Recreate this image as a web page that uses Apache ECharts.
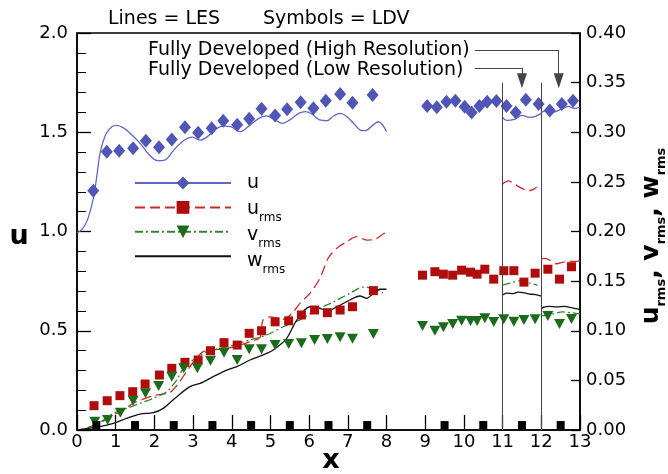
<!DOCTYPE html>
<html><head><meta charset="utf-8">
<script src="https://cdn.jsdelivr.net/npm/echarts@6/dist/echarts.min.js"></script>
<style>html,body{margin:0;padding:0;background:#fff}#c{width:668px;height:474px}</style>
</head><body><div id="c"></div>
<script>
// ---- LES (lines) ----
const uLesX = [0,0.1,0.2,0.3,0.43,0.52,0.59,0.67,0.76,0.9,1.02,1.2,1.4,1.65,1.85,2.08,2.27,2.5,2.77,2.98,3.18,3.37,3.58,3.78,3.97,4.21,4.44,4.70,4.90,5.09,5.30,5.52,5.73,5.90,6.07,6.27,6.46,6.63,6.80,6.98,7.19,7.32,7.45,7.65,7.79,8.0,
  null, 11.0,11.1,11.3,11.5,11.7,11.85,12.0, null, 12.0,12.15,12.3,12.5,12.7,12.85,13.0];
const uLesY = [0.995,1.005,1.03,1.075,1.175,1.29,1.39,1.45,1.495,1.528,1.535,1.522,1.49,1.44,1.39,1.357,1.36,1.41,1.46,1.475,1.46,1.478,1.515,1.531,1.528,1.503,1.531,1.57,1.582,1.565,1.545,1.565,1.595,1.604,1.592,1.562,1.558,1.582,1.595,1.578,1.536,1.511,1.508,1.536,1.553,1.503,
  null, 1.575,1.56,1.565,1.585,1.575,1.58,1.595, null, 1.6,1.61,1.6,1.615,1.63,1.62,1.625];

const urmsLesX = [0.3,0.51,0.85,1.2,1.45,1.71,1.97,2.23,2.40,2.62,2.83,3.05,3.26,3.52,3.87,4.21,4.47,4.73,4.78,4.81,4.99,5.33,5.59,5.76,6.02,6.28,6.49,6.71,6.97,7.23,7.49,7.70,7.91,8.0,
  null, 11.0,11.15,11.3,11.45,11.66,11.8,11.88, null, 12.0,12.1,12.25,12.4,12.55,12.7,12.9,13.0];
const urmsLesY = [0.003,0.005,0.0134,0.020,0.027,0.031,0.0346,0.0363,0.0376,0.047,0.0588,0.0705,0.0789,0.0806,0.0823,0.0856,0.089,0.0934,0.106,0.111,0.114,0.1115,0.119,0.1276,0.1377,0.153,0.173,0.183,0.1897,0.1948,0.1914,0.192,0.1975,0.1988,
  null, 0.248,0.251,0.248,0.2445,0.241,0.2425,0.2445, null, 0.1725,0.173,0.1705,0.1675,0.169,0.170,0.170,0.1705];

const vrmsLesX = [0.25,0.6,0.94,1.28,1.63,1.97,2.32,2.58,2.75,3.0,3.35,3.70,4.04,4.47,4.90,5.33,5.76,6.19,6.62,7.05,7.40,7.66,7.91,
  null, 11.0,11.2,11.45,11.7,11.9, null, 12.0,12.3,12.55,12.8,13.0];
const vrmsLesY = [0.0017,0.008,0.0168,0.0218,0.0269,0.0319,0.0386,0.0504,0.0622,0.0705,0.0789,0.0823,0.0856,0.0907,0.0957,0.104,0.111,0.121,0.129,0.1377,0.144,0.1427,0.138,
  null, 0.146,0.148,0.1505,0.148,0.146, null, 0.115,0.117,0.119,0.118,0.117];

const wrmsLesX = [0.08,0.59,0.94,1.28,1.63,1.97,2.23,2.58,2.92,3.18,3.52,3.87,4.13,4.47,4.81,5.07,5.42,5.68,6.02,6.28,6.49,6.71,7.05,7.31,7.49,7.66,7.83,8.0,
  null, 11.0,11.1,11.27,11.4,11.53,11.7,11.85,12.0, null, 12.0,12.05,12.2,12.4,12.6,12.8,13.0];
const wrmsLesY = [0.0007,0.0034,0.0067,0.0118,0.016,0.0175,0.0218,0.0336,0.0437,0.047,0.0537,0.0604,0.0638,0.0705,0.0756,0.0806,0.0924,0.1108,0.1242,0.1226,0.120,0.124,0.131,0.135,0.1327,0.1377,0.1418,0.1418,
  null, 0.136,0.138,0.1375,0.139,0.1385,0.137,0.1365,0.135, null, 0.1215,0.1235,0.1245,0.124,0.1245,0.123,0.1215];

// ---- LDV (symbols) ----
const uLdvX = [0.42,0.77,1.09,1.45,1.78,2.12,2.45,2.79,3.13,3.48,3.78,4.14,4.45,4.77,5.12,5.43,5.78,6.11,6.43,6.80,7.12,7.64,
  9.05,9.3,9.55,9.78,10.02,10.2,10.4,10.6,10.84,11.1,11.34,11.6,11.93,12.22,12.53,12.82];
const uLdvY = [1.205,1.402,1.407,1.419,1.457,1.424,1.464,1.525,1.498,1.52,1.558,1.538,1.568,1.619,1.585,1.616,1.651,1.621,1.659,1.693,1.649,1.688,
  1.632,1.626,1.654,1.659,1.629,1.60,1.632,1.654,1.657,1.632,1.60,1.664,1.642,1.609,1.642,1.659];

const urmsLdvX = [0.44,0.78,1.11,1.44,1.76,2.13,2.45,2.79,3.13,3.45,3.80,4.14,4.45,4.77,5.12,5.47,5.80,6.14,6.47,6.80,7.12,7.66,
  8.93,9.25,9.47,9.71,9.94,10.17,10.34,10.54,10.77,11.03,11.29,11.55,11.84,12.17,12.47,12.78];
const urmsLdvY = [0.0245,0.0295,0.0346,0.0386,0.0463,0.0554,0.0621,0.0682,0.0705,0.0799,0.088,0.0856,0.0974,0.100,0.109,0.110,0.1159,0.1209,0.1182,0.1209,0.1242,0.1404,
  0.156,0.1595,0.157,0.156,0.161,0.159,0.157,0.162,0.152,0.1605,0.1605,0.149,0.158,0.162,0.152,0.1645];

const vrmsLdvX = [0.46,0.79,1.12,1.45,1.77,2.11,2.45,2.76,3.11,3.45,3.80,4.14,4.45,4.77,5.12,5.47,5.80,6.14,6.47,6.80,7.12,7.66,
  8.93,9.25,9.47,9.71,9.94,10.17,10.34,10.54,10.77,11.03,11.29,11.55,11.84,12.17,12.47,12.78];
const vrmsLdvY = [0.0084,0.0101,0.0175,0.0295,0.037,0.0443,0.0537,0.0621,0.0621,0.0698,0.0779,0.0705,0.0813,0.0813,0.0856,0.0866,0.0873,0.0907,0.0917,0.0934,0.092,0.0967,
  0.1048,0.100,0.1035,0.1068,0.110,0.1098,0.1098,0.1125,0.1088,0.1115,0.109,0.1108,0.1115,0.1149,0.1068,0.1118];

// small black squares along the x axis
const markX = [0.5,1.5,2.5,3.5,4.5,5.5,6.5,7.5,9.5,10.5,11.5,12.5];
const markY = [0.025,0.025,0.025,0.025,0.025,0.025,0.025,0.025,0.025,0.025,0.025,0.025];

// annotation geometry (data coords)
const zoneX = [11, 12];
const zoneTop = 1.75;

const legendNames = ['u','urms','vrms','wrms'];
const legendLabels = ['{m|u}','{m|u}{s|rms}','{m|v}{s|rms}','{m|w}{s|rms}'];

const FONT = 'DejaVu Sans';
const BLUE = '#5155b6', BLUE_L = '#6266c8';
const RED = '#b00c0c', RED_L = '#d42626';
const GREEN = '#1c6b1c', GREEN_L = '#2c8a2c';

function zip(xs, ys){ return xs.map((x,i)=>[x, ys[i]]); }

const chart = echarts.init(document.getElementById('c'), null, {renderer:'canvas'});
const axisTxt = {fontFamily: FONT, fontSize: 18, color:'#000'};

// legend geometry
const LEG_LEFT = 134, LEG_TOP = 175, LEG_H = 16, LEG_GAP = 10, LEG_W = 96;
const legendRich = {
  m:{fontFamily:FONT, fontSize:19, fill:'#000', lineHeight:30},
  s:{fontFamily:FONT, fontSize:12, fill:'#000', lineHeight:30, verticalAlign:'bottom'}
};
const legendTextGraphics = legendLabels.map((t,i)=>({
  type:'text', x:LEG_LEFT + LEG_W + 17, y:LEG_TOP + LEG_H/2 + i*(LEG_H+LEG_GAP),
  style:{text:t, align:'left', verticalAlign:'middle', rich:legendRich}
}));

chart.setOption({
  animation:false,
  backgroundColor:'#fff',
  grid:{left:77, right:88, top:33, bottom:44, show:true, borderColor:'#000', borderWidth:1.5, backgroundColor:'transparent'},
  xAxis:{type:'value', min:0, max:13, interval:1,
    axisLine:{show:true, onZero:false, lineStyle:{color:'#000', width:1.5}},
    axisTick:{show:true, inside:true, length:15, lineStyle:{color:'#000', width:1.3}},
    axisLabel:Object.assign({margin:3}, axisTxt),
    splitLine:{show:false}},
  yAxis:[
    {type:'value', min:0, max:2, interval:0.5, position:'left',
      axisLine:{show:true, onZero:false, lineStyle:{color:'#000', width:1.5}},
      axisTick:{show:true, inside:true, length:14, lineStyle:{color:'#000', width:1.3}},
      minorTick:{show:true, splitNumber:5, length:9, lineStyle:{color:'#000', width:1}},
      axisLabel:Object.assign({margin:9, formatter:v=>v.toFixed(1)}, axisTxt),
      splitLine:{show:false}, minorSplitLine:{show:false}},
    {type:'value', min:0, max:0.4, interval:0.05, position:'right',
      axisLine:{show:true, onZero:false, lineStyle:{color:'#000', width:1.5}},
      axisTick:{show:true, inside:true, length:9, lineStyle:{color:'#000', width:1.3}},
      axisLabel:Object.assign({margin:6, formatter:v=>v.toFixed(2)}, axisTxt),
      splitLine:{show:false}}
  ],
  legend:{orient:'vertical', left:LEG_LEFT, top:LEG_TOP, padding:0, itemWidth:LEG_W, itemHeight:LEG_H, itemGap:LEG_GAP,
    selectedMode:false,
    data:legendNames.map((n,i)=> i===3 ? {name:n, itemStyle:{opacity:0}} : {name:n}),
    formatter:()=>'',
    textStyle:{fontSize:1}},
  series:[
    {name:'u', type:'line', yAxisIndex:0, data:zip(uLesX,uLesY), symbol:'diamond', showSymbol:false, smooth:0.35,
      connectNulls:false, lineStyle:{color:BLUE_L, width:1.3}, itemStyle:{color:BLUE}, z:3,
      markLine:{silent:true, symbol:'none', animation:false, label:{show:false},
        lineStyle:{color:'#444', width:1, type:'solid'},
        data:[
          [{coord:[zoneX[0],0]},{coord:[zoneX[0],zoneTop]}],
          [{coord:[zoneX[1],0]},{coord:[zoneX[1],zoneTop]}],
          [{coord:[10.28,1.914]},{coord:[12.45,1.914]}],
          [{coord:[12.45,1.914]},{coord:[12.45,1.76], symbol:'triangle', symbolSize:[10,15]}],
          [{coord:[10.28,1.824]},{coord:[11.5,1.824]}],
          [{coord:[11.5,1.824]},{coord:[11.5,1.76], symbol:'triangle', symbolSize:[10,15]}]
        ]}},
    {name:'urms', type:'line', yAxisIndex:1, data:zip(urmsLesX,urmsLesY), symbol:'rect', showSymbol:false, smooth:0.3,
      connectNulls:false, lineStyle:{color:RED_L, width:1.3, type:[10,5]}, itemStyle:{color:RED}, z:3},
    {name:'vrms', type:'line', yAxisIndex:1, data:zip(vrmsLesX,vrmsLesY), symbol:'triangle', symbolRotate:180, showSymbol:false, smooth:0.3,
      connectNulls:false, lineStyle:{color:GREEN_L, width:1.3, type:[8,3,2,3]}, itemStyle:{color:GREEN}, z:3},
    {name:'wrms', type:'line', yAxisIndex:1, data:zip(wrmsLesX,wrmsLesY), symbol:'circle', showSymbol:false, smooth:0.3,
      connectNulls:false, lineStyle:{color:'#111', width:1.3}, itemStyle:{color:'#111'}, z:3},
    {name:'u', type:'scatter', yAxisIndex:0, data:zip(uLdvX,uLdvY), symbol:'diamond', symbolSize:[12,14],
      itemStyle:{color:BLUE, opacity:1}, z:4},
    {name:'urms', type:'scatter', yAxisIndex:1, data:zip(urmsLdvX,urmsLdvY), symbol:'rect', symbolSize:9,
      itemStyle:{color:RED, opacity:1}, z:4},
    {name:'vrms', type:'scatter', yAxisIndex:1, data:zip(vrmsLdvX,vrmsLdvY), symbol:'triangle', symbolRotate:180, symbolSize:[11,10],
      itemStyle:{color:GREEN, opacity:1}, z:4},
    {name:'marks', type:'scatter', yAxisIndex:0, data:zip(markX,markY), symbol:'rect', symbolSize:8,
      itemStyle:{color:'#000', opacity:1}, silent:true, z:4}
  ],
  graphic:[
    {type:'text', x:108, y:19, style:{text:'Lines = LES', fontFamily:FONT, fontSize:19, fill:'#000', align:'left', verticalAlign:'middle'}},
    {type:'text', x:263, y:19, style:{text:'Symbols = LDV', fontFamily:FONT, fontSize:19, fill:'#000', align:'left', verticalAlign:'middle'}},
    {type:'text', x:148, y:50, style:{text:'Fully Developed (High Resolution)', fontFamily:FONT, fontSize:19, fill:'#000', align:'left', verticalAlign:'middle'}},
    {type:'text', x:148, y:70, style:{text:'Fully Developed (Low Resolution)', fontFamily:FONT, fontSize:19, fill:'#000', align:'left', verticalAlign:'middle'}},
    {type:'text', x:331, y:461, style:{text:'x', fontFamily:FONT, fontWeight:'bold', fontSize:27, fill:'#000', align:'center', verticalAlign:'middle'}},
    {type:'text', x:19, y:237, style:{text:'u', fontFamily:FONT, fontWeight:'bold', fontSize:27, fill:'#000', align:'center', verticalAlign:'middle'}},
    {type:'text', x:651, y:236, rotation:Math.PI/2, style:{
      text:'{m|u}{s|rms}{m|, v}{s|rms}{m|, w}{s|rms}', align:'center', verticalAlign:'middle',
      rich:{m:{fontFamily:FONT, fontWeight:'bold', fontSize:25, fill:'#000', lineHeight:34},
            s:{fontFamily:FONT, fontWeight:'bold', fontSize:13, fill:'#000', lineHeight:34, verticalAlign:'bottom'}}}}
  ].concat(legendTextGraphics)
});
</script></body></html>
